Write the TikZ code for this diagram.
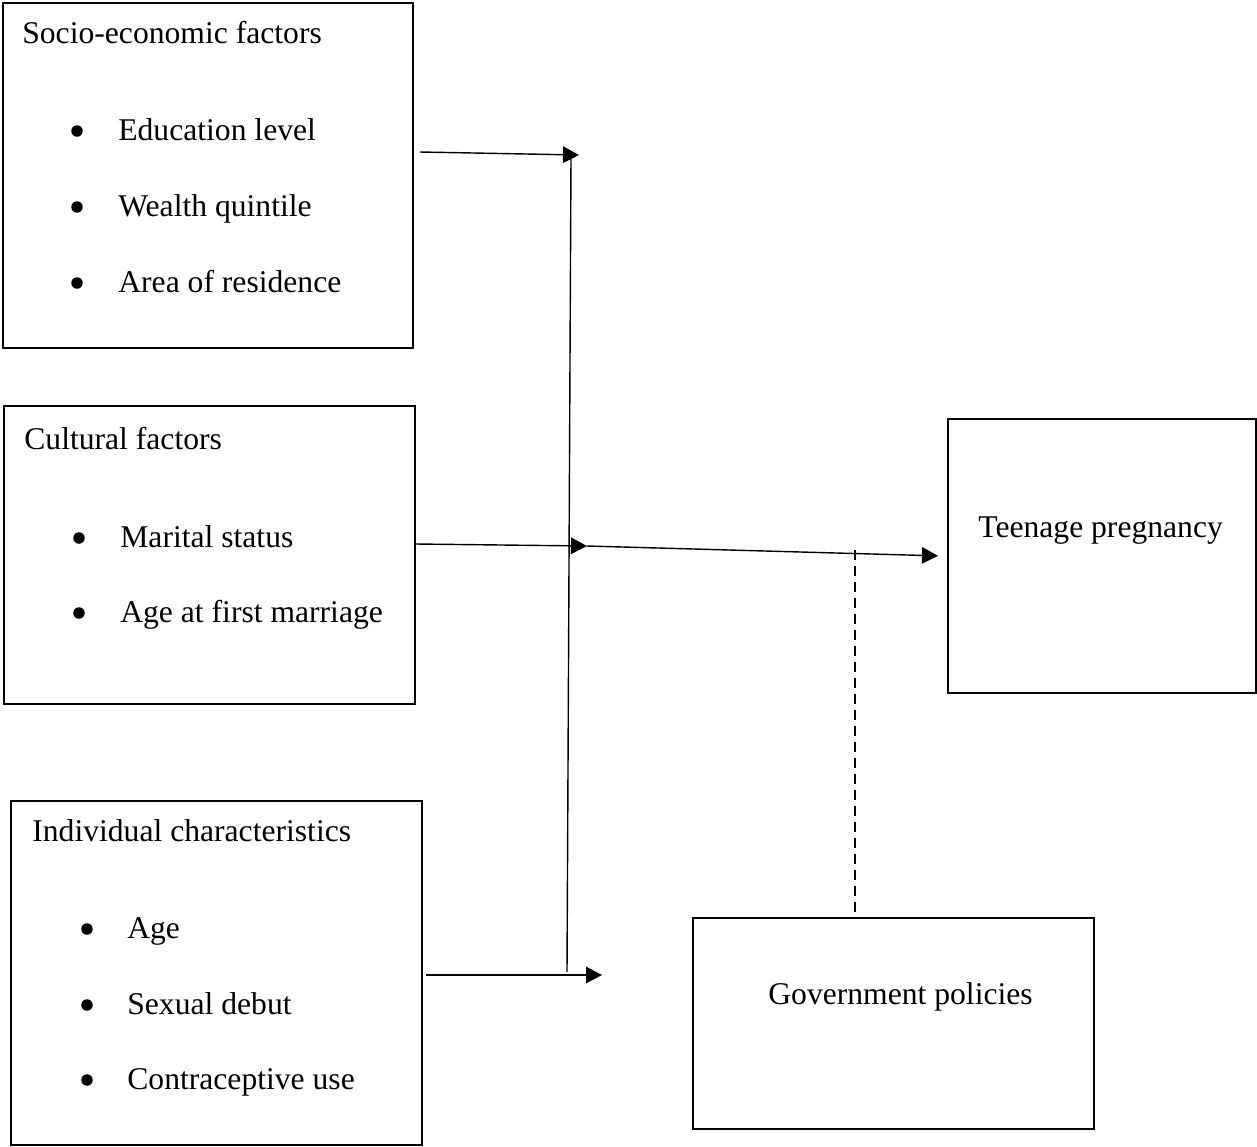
\documentclass[tikz,border=0pt]{standalone}
\usepackage{fontspec}
\setmainfont{Liberation Serif}
\usetikzlibrary{arrows.meta}
\tikzset{
  box/.style={draw, line width=1.3pt, anchor=north west, inner sep=0pt},
  txt/.style={anchor=base west, inner sep=0pt, font=\fontsize{18}{21}\selectfont},
  dot/.style={circle, fill, inner sep=0pt, minimum size=0.23cm},
  flow/.style={-{Triangle[length=0.32cm,width=0.33cm]}, line width=0.8pt},
  link/.style={line width=0.8pt},
  mod/.style={dash pattern=on 0.2cm off 0.12cm, line width=0.9pt},
}

\begin{document}
\begin{tikzpicture}[x=0.02cm, y=-0.02cm]
\useasboundingbox (0,0) rectangle (1257,1146);

% the boxes
\node[box, minimum width=8.2cm, minimum height=6.9cm] (soc) at (2,2) {};
\node[box, minimum width=8.22cm, minimum height=5.96cm] (cult) at (3,405) {};
\node[box, minimum width=8.22cm, minimum height=6.88cm] (indiv) at (10,800) {};
\node[box, minimum width=6.16cm, minimum height=5.48cm] (teen) at (947,418) {};
\node[box, minimum width=8.02cm, minimum height=4.22cm] (gov) at (692,917) {};

% socio-economic factors
\node[txt] (socT) at (22,43) {Socio-economic factors};
\node[dot] (socAd) at (77,131) {};
\node[txt] (socA) at (118,140) {Education level};
\node[dot] (socBd) at (77,207) {};
\node[txt] (socB) at (118,216) {Wealth quintile};
\node[dot] (socCd) at (77,283) {};
\node[txt] (socC) at (118,292) {Area of residence};

% cultural factors
\node[txt] (cultT) at (24,449) {Cultural factors};
\node[dot] (cultAd) at (79,538) {};
\node[txt] (cultA) at (120,547) {Marital status};
\node[dot] (cultBd) at (79,613) {};
\node[txt] (cultB) at (120,622) {Age at first marriage};

% individual characteristics
\node[txt] (indivT) at (32,841) {Individual characteristics};
\node[dot] (indivAd) at (87,929) {};
\node[txt] (indivA) at (127,938) {Age};
\node[dot] (indivBd) at (87,1005) {};
\node[txt] (indivB) at (127,1014) {Sexual debut};
\node[dot] (indivCd) at (87,1080) {};
\node[txt] (indivC) at (127,1089) {Contraceptive use};

% outcome and moderator
\node[txt] (teenT) at (978,537) {Teenage pregnancy};
\node[txt] (govT) at (768,1004) {Government policies};

% arrow ends
\coordinate (s1) at (420,152);
\coordinate (j1) at (579,155);
\coordinate (s2) at (416,544);
\coordinate (j2) at (587,546);
\coordinate (s3) at (426,975);
\coordinate (j3) at (602,975);
\coordinate (vtop) at (571,157);
\coordinate (vbot) at (567,972);
\coordinate (dtop) at (855,550);

\draw[flow] (s1) -- (j1);
\draw[flow] (s2) -- (j2);
\draw[flow] (s3) -- (j3);
\draw[link] (vtop) -- (vbot);
\draw[flow, shorten >=0.18cm] (j2) -- (teen.west);
\draw[mod] (dtop) -- (dtop |- gov.north);
\end{tikzpicture}
\end{document}
